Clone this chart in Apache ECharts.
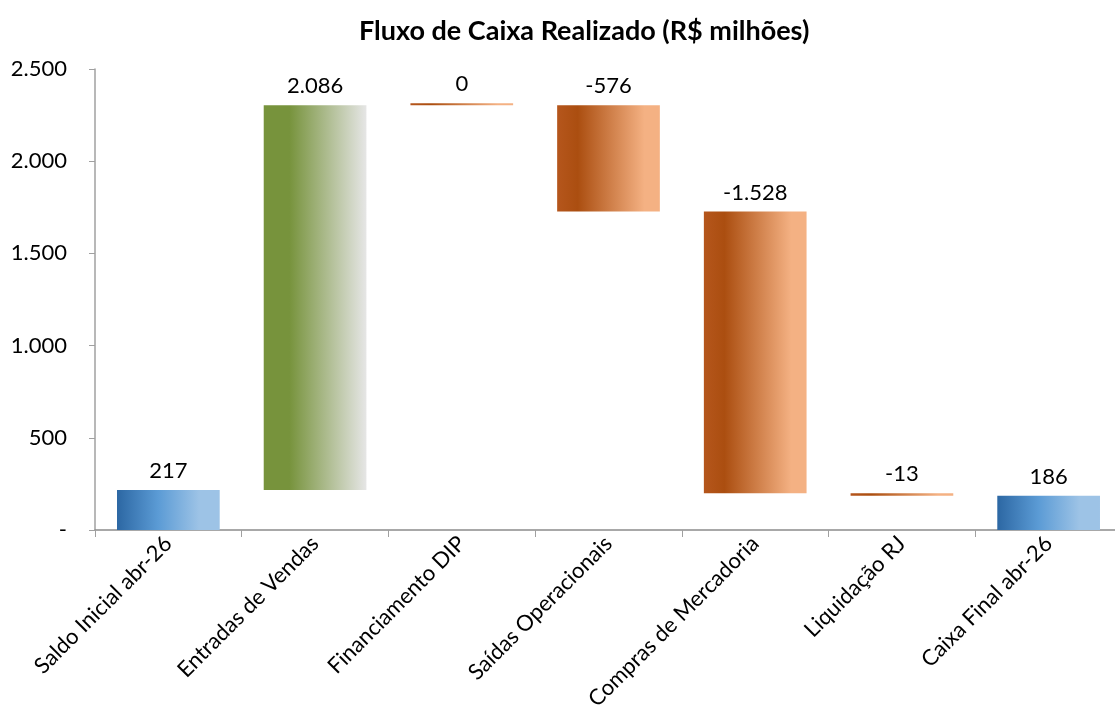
<!DOCTYPE html>
<html>
<head>
<meta charset="utf-8">
<script src="https://cdn.jsdelivr.net/npm/echarts@6/dist/echarts.min.js"></script>
<style>
  html, body { margin: 0; padding: 0; background: #fff; }
  #chart { width: 1115px; height: 726px; }
</style>
</head>
<body>
<div id="chart"></div>
<script>
// categorias e valores (R$ milhões)
var categorias = ['Saldo Inicial abr-26', 'Entradas de Vendas', 'Financiamento DIP', 'Saídas Operacionais', 'Compras de Mercadoria', 'Liquidação RJ', 'Caixa Final abr-26'];
var valores = [217, 2086, 0, -576, -1528, -13, 186];
var tipos = ['total', 'entrada', 'saida', 'saida', 'saida', 'saida', 'total'];
var yTicks = [0, 500, 1000, 1500, 2000, 2500];

function fmt(v) {
  var s = Math.abs(v).toString().replace(/\B(?=(\d{3})+(?!\d))/g, '.');
  return (v < 0 ? '-' : '') + s;
}

function grad(tipo) {
  if (tipo === 'total') {
    return new echarts.graphic.LinearGradient(0, 0, 1, 0, [
      { offset: 0, color: '#2c67a3' },
      { offset: 0.4, color: '#5b9bd5' },
      { offset: 0.8, color: '#9dc3e6' },
      { offset: 1, color: '#9dc3e6' }
    ]);
  }
  if (tipo === 'entrada') {
    return new echarts.graphic.LinearGradient(0, 0, 1, 0, [
      { offset: 0, color: '#77933c' },
      { offset: 0.25, color: '#77933c' },
      { offset: 1, color: '#e6e6e6' }
    ]);
  }
  return new echarts.graphic.LinearGradient(0, 0, 1, 0, [
    { offset: 0, color: '#b5561c' },
    { offset: 0.2, color: '#ab4e10' },
    { offset: 0.85, color: '#f4b183' },
    { offset: 1, color: '#f4b183' }
  ]);
}

// base invisível da cascata
var base = [], altura = [];
var acum = 0;
for (var i = 0; i < valores.length; i++) {
  if (tipos[i] === 'total') {
    base.push(0);
    altura.push(valores[i]);
    acum = valores[i];
  } else {
    var novo = acum + valores[i];
    base.push(Math.min(acum, novo));
    altura.push(Math.abs(valores[i]));
    acum = novo;
  }
}

var chart = echarts.init(document.getElementById('chart'));
var fonte = 'Lato, "Open Sans", sans-serif';
chart.setOption({
  animation: false,
  title: {
    text: 'Fluxo de Caixa Realizado (R$ milhões)',
    left: 354,
    top: 13,
    textStyle: { fontFamily: fonte, fontSize: 27, fontWeight: 'bold', color: '#000' }
  },
  grid: { left: 95, width: 1027, top: 69, height: 461, outerBoundsMode: 'none', containLabel: false },
  xAxis: {
    type: 'category',
    data: categorias,
    axisLine: { lineStyle: { color: '#8c8c8c', width: 1.5 } },
    axisTick: { show: true, length: 7, lineStyle: { color: '#a0a0a0' } },
    axisLabel: { rotate: 45, interval: 0, margin: 10, fontFamily: fonte, fontSize: 22, color: '#000' }
  },
  yAxis: {
    type: 'value',
    min: 0,
    max: 2500,
    interval: 500,
    splitLine: { show: false },
    axisLine: { show: true, lineStyle: { color: '#a0a0a0', width: 1.5 } },
    axisTick: { show: true, length: 6, lineStyle: { color: '#a0a0a0' } },
    axisLabel: {
      margin: 28,
      fontFamily: fonte, fontSize: 22, color: '#000',
      formatter: function (v) { return v === 0 ? '-' : fmt(v); }
    }
  },
  series: [
    {
      type: 'bar',
      stack: 'cascata',
      data: base,
      itemStyle: { color: 'transparent' },
      barWidth: '70%',
      silent: true
    },
    {
      type: 'bar',
      stack: 'cascata',
      barMinHeight: 2,
      data: altura.map(function (h, i) {
        return { value: h, itemStyle: { color: grad(tipos[i]) } };
      }),
      label: {
        show: true,
        position: 'top',
        distance: 8,
        fontFamily: fonte,
        fontSize: 22,
        color: '#000',
        formatter: function (p) { return fmt(valores[p.dataIndex]); }
      }
    }
  ]
});
</script>
</body>
</html>
